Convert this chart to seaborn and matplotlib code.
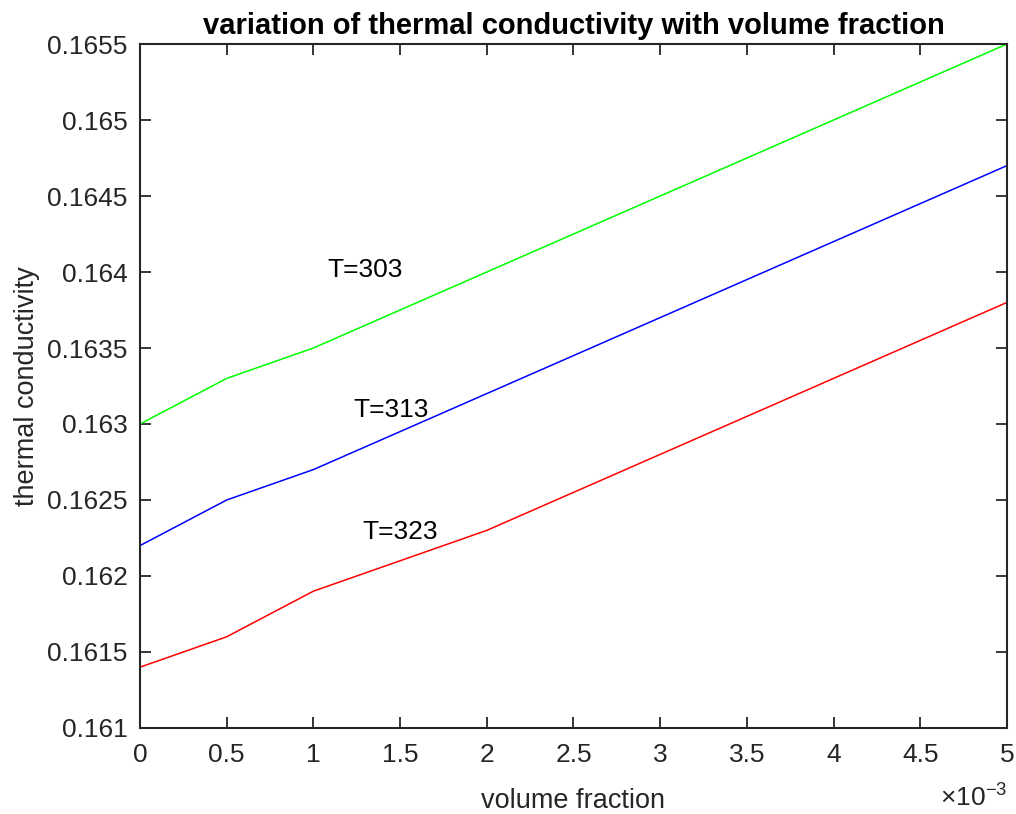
"""Thermal conductivity vs volume fraction, MATLAB-style line chart."""
import matplotlib
matplotlib.use("Agg")
import matplotlib.pyplot as plt
import matplotlib.ticker as mticker
import pandas as pd
import seaborn as sns

sns.set_style("white")
plt.rcParams["font.family"] = ["Liberation Sans", "DejaVu Sans"]
plt.rcParams["mathtext.fontset"] = "custom"
plt.rcParams["mathtext.rm"] = "Liberation Sans"

# volume fraction (x 1e-3)
volume_fraction = [0.0, 0.5e-3, 1.0e-3, 2.0e-3, 3.0e-3, 4.0e-3, 5.0e-3]
k_303 = [0.1630, 0.1633, 0.1635, 0.1640, 0.1645, 0.1650, 0.1655]
k_313 = [0.1622, 0.1625, 0.1627, 0.1632, 0.1637, 0.1642, 0.1647]
k_323 = [0.1614, 0.1616, 0.1619, 0.1623, 0.1628, 0.1633, 0.1638]
series_names = ["T=303", "T=313", "T=323"]
series_colors = ["#00ff00", "#0000ff", "#ff0000"]
# label anchor points (data coords)
label_x = [1.08e-3, 1.23e-3, 1.28e-3]
label_y = [0.16401, 0.16309, 0.16229]

df = pd.DataFrame({
    "vf": volume_fraction * 3,
    "k": k_303 + k_313 + k_323,
    "T": [n for n in series_names for _ in volume_fraction],
})

fig = plt.figure(figsize=(10.16, 8.14), dpi=100)
ax = fig.add_axes([0.1378, 0.1057, 0.8533, 0.8402])

sns.lineplot(data=df, x="vf", y="k", hue="T", palette=dict(zip(series_names, series_colors)),
             linewidth=1.1, legend=False, ax=ax)

for name, x, y in zip(series_names, label_x, label_y):
    ax.text(x, y, name, fontsize=19, ha="left", va="center", color="black")

ax.set_xlim(0, 5e-3)
ax.set_ylim(0.161, 0.1655)
ax.xaxis.set_major_locator(mticker.MultipleLocator(0.5e-3))
ax.yaxis.set_major_locator(mticker.MultipleLocator(0.0005))
ax.xaxis.set_major_formatter(mticker.FuncFormatter(lambda v, _: f"{v * 1e3:g}"))
ax.yaxis.set_major_formatter(mticker.FuncFormatter(lambda v, _: f"{v:.4f}".rstrip("0")))
ax.text(1.0, -0.1, r"$\times10^{-3}$", transform=ax.transAxes, ha="right", va="center",
        fontsize=19, color="#262626")

ax.tick_params(axis="both", direction="in", length=8, width=1.3, labelsize=19,
               colors="#262626", top=True, right=True, bottom=True, left=True)
ax.tick_params(axis="x", pad=11)
ax.tick_params(axis="y", pad=9)
for s in ax.spines.values():
    s.set_linewidth(1.5)
    s.set_color("#262626")

ax.set_xlabel("volume fraction", fontsize=19.5, color="#262626", labelpad=15)
ax.set_ylabel("thermal conductivity", fontsize=19.5, color="#262626", labelpad=5)
ax.set_title("variation of thermal conductivity with volume fraction", fontsize=21,
             fontweight="bold", color="black", pad=7)

fig.savefig("out.png", dpi=100)
